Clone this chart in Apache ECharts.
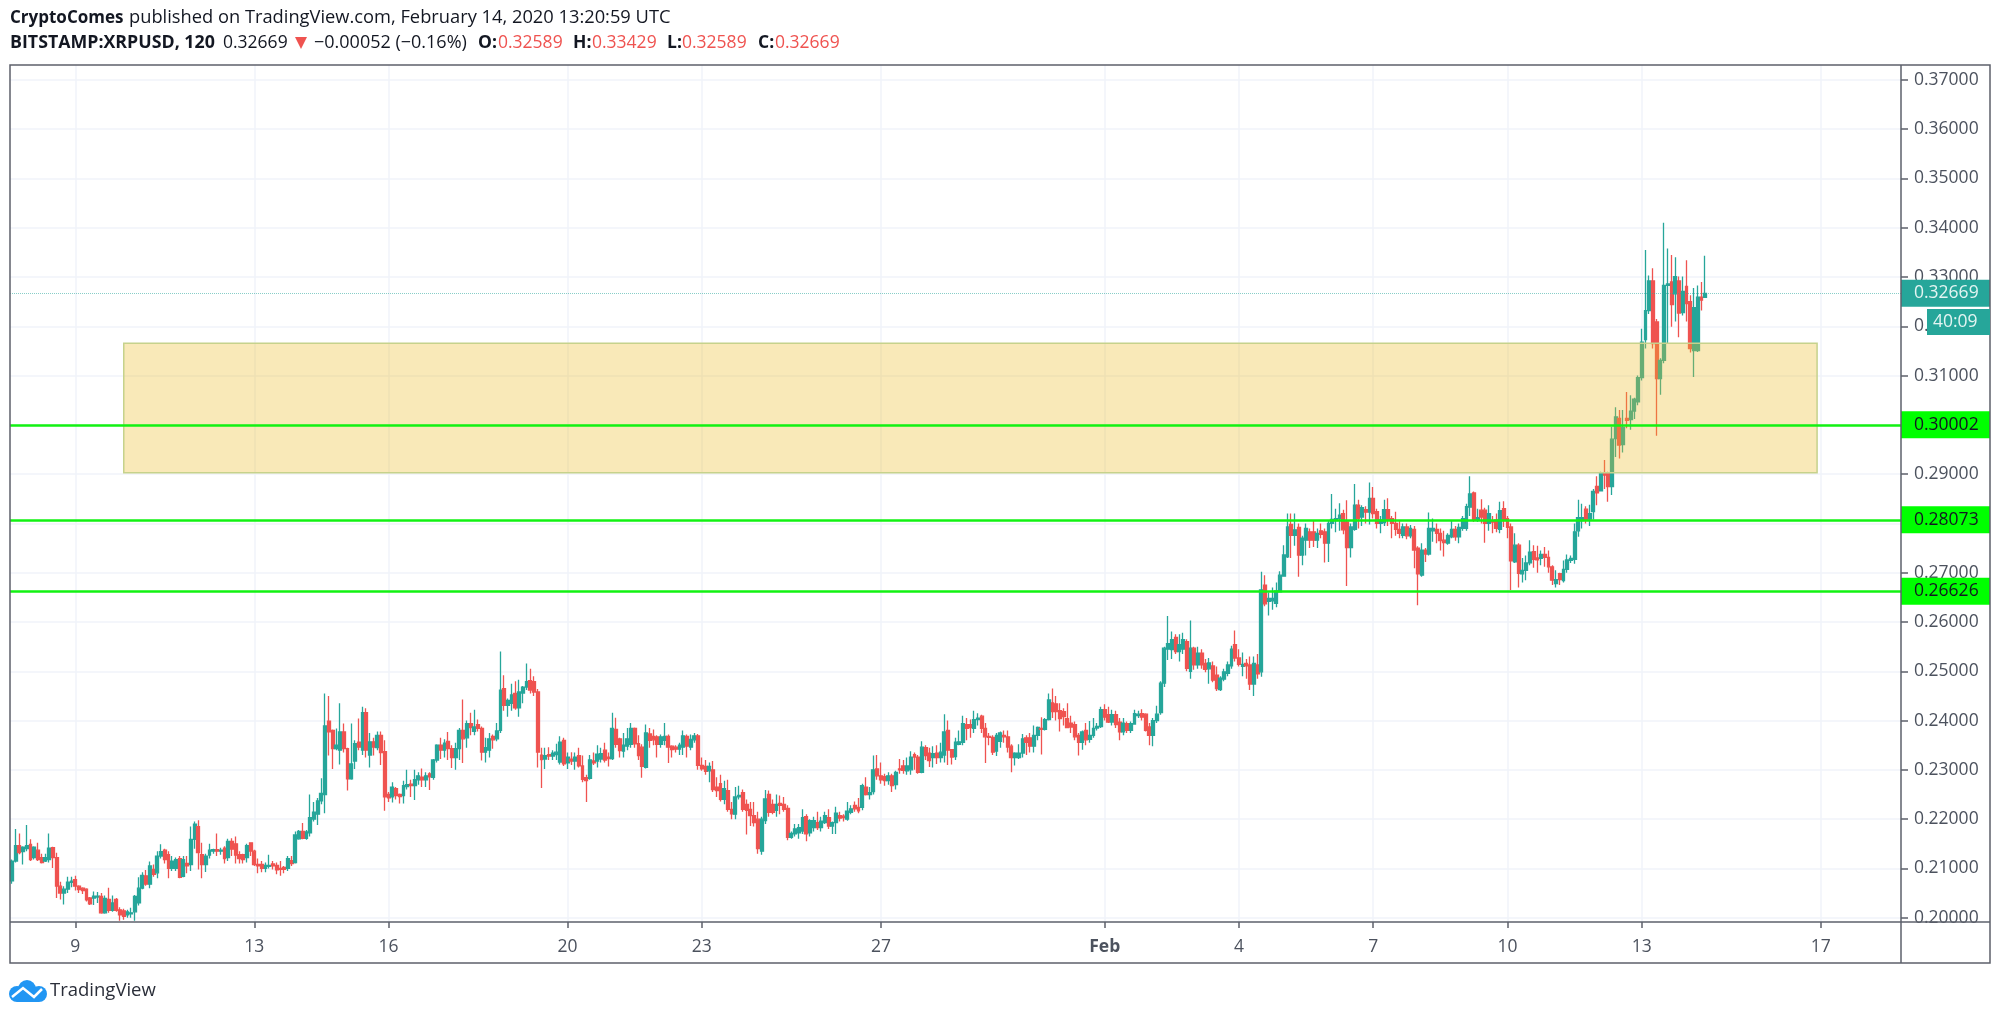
<!DOCTYPE html>
<html>
<head>
<meta charset="utf-8">
<title>XRPUSD</title>
<script src="https://cdn.jsdelivr.net/npm/echarts@6/dist/echarts.min.js"></script>
<style>
    html, body { margin: 0; padding: 0; background: #fff; }
    #chart { width: 2000px; height: 1018px; }
</style>
</head>
<body>
<div id="chart"></div>
<script>
// prices x 10000, one 2h candle per slot, 10 per line
var opens = [
    2075,2115,2146,2134,2140,2149,2122,2137,2122,2115,
    2118,2142,2122,2064,2050,2058,2072,2077,2064,2060,
    2058,2040,2040,2042,2043,2010,2037,2015,2037,2016,
    2014,2006,2008,2012,2030,2060,2085,2068,2098,2091,
    2125,2137,2128,2100,2100,2120,2084,2110,2108,2159,
    2185,2128,2108,2127,2135,2138,2135,2141,2122,2155,
    2150,2128,2128,2122,2152,2135,2108,2108,2100,2104,
    2109,2106,2100,2102,2100,2116,2112,2160,2175,2161,
    2172,2200,2210,2237,2250,2399,2380,2343,2340,2377,
    2343,2282,2318,2356,2340,2416,2330,2357,2345,2370,
    2337,2250,2245,2262,2250,2248,2266,2271,2268,2280,
    2285,2280,2292,2285,2320,2350,2340,2358,2343,2325,
    2343,2380,2365,2394,2378,2392,2384,2336,2340,2368,
    2363,2380,2465,2431,2435,2455,2426,2456,2468,2481,
    2479,2458,2330,2322,2331,2328,2331,2316,2360,2314,
    2322,2318,2329,2308,2284,2283,2318,2318,2322,2340,
    2326,2323,2382,2363,2338,2348,2352,2384,2353,2346,
    2305,2373,2368,2367,2352,2360,2368,2348,2346,2342,
    2346,2368,2346,2361,2369,2309,2307,2298,2300,2265,
    2272,2240,2258,2220,2210,2245,2254,2230,2220,2207,
    2200,2135,2197,2250,2230,2218,2232,2230,2222,2163,
    2170,2172,2176,2205,2172,2183,2193,2183,2193,2203,
    2186,2193,2207,2206,2200,2214,2228,2224,2224,2265,
    2250,2256,2302,2288,2286,2278,2288,2270,2302,2308,
    2298,2300,2331,2326,2295,2345,2334,2325,2334,2325,
    2330,2380,2341,2327,2352,2356,2392,2392,2384,2402,
    2409,2384,2368,2366,2338,2358,2370,2367,2348,2325,
    2325,2334,2365,2365,2348,2370,2384,2382,2402,2436,
    2434,2420,2418,2404,2395,2392,2370,2356,2380,2362,
    2370,2385,2388,2422,2412,2397,2412,2397,2377,2394,
    2380,2393,2410,2414,2413,2387,2370,2400,2416,2476,
    2545,2544,2569,2540,2545,2560,2500,2547,2513,2537,
    2516,2505,2511,2492,2463,2484,2496,2511,2554,2527,
    2510,2516,2513,2474,2513,2499,2675,2642,2643,2638,
    2661,2693,2732,2798,2776,2792,2736,2766,2783,2783,
    2766,2785,2783,2760,2800,2806,2810,2820,2803,2751,
    2788,2837,2813,2828,2823,2851,2824,2800,2802,2828,
    2810,2800,2788,2776,2793,2775,2788,2750,2695,2746,
    2738,2785,2788,2780,2766,2760,2773,2788,2773,2790,
    2790,2833,2862,2807,2827,2827,2800,2805,2807,2788,
    2830,2810,2793,2722,2756,2698,2705,2720,2743,2730,
    2729,2737,2731,2712,2678,2698,2684,2707,2725,2727,
    2785,2806,2829,2809,2824,2875,2866,2902,2902,2875,
    2972,3013,2960,3013,3011,3028,3047,3096,3173,3232,
    3292,3209,3094,3131,3283,3290,3266,3292,3228,3281,
    3250,3151,3151,3259,3259
];
var closes = [
    2115,2146,2132,2143,2146,2118,2143,2118,2112,2122,
    2141,2122,2064,2050,2058,2072,2074,2064,2057,2055,
    2036,2028,2044,2044,2010,2039,2015,2030,2015,2006,
    2003,2012,2010,2043,2060,2086,2068,2105,2088,2125,
    2134,2118,2100,2115,2118,2082,2118,2105,2159,2190,
    2132,2108,2125,2137,2138,2135,2137,2120,2155,2139,
    2127,2120,2118,2146,2135,2108,2105,2100,2106,2106,
    2105,2097,2098,2098,2120,2110,2168,2175,2161,2174,
    2203,2214,2237,2252,2389,2377,2343,2350,2377,2343,
    2282,2312,2353,2346,2416,2340,2357,2346,2370,2335,
    2245,2243,2265,2248,2246,2268,2270,2268,2280,2288,
    2280,2288,2286,2320,2350,2340,2354,2343,2325,2343,
    2380,2363,2394,2386,2387,2384,2336,2345,2363,2361,
    2379,2462,2431,2441,2452,2426,2458,2468,2479,2462,
    2458,2336,2321,2329,2328,2334,2336,2356,2312,2326,
    2318,2326,2308,2281,2278,2320,2314,2332,2333,2320,
    2323,2384,2352,2339,2350,2363,2384,2353,2329,2307,
    2375,2360,2361,2352,2367,2368,2346,2341,2342,2350,
    2369,2348,2362,2369,2309,2302,2297,2307,2260,2258,
    2240,2262,2220,2211,2245,2248,2220,2218,2207,2193,
    2140,2200,2241,2214,2214,2230,2228,2220,2163,2171,
    2180,2183,2203,2170,2197,2197,2183,2196,2207,2186,
    2193,2212,2202,2203,2216,2221,2221,2217,2268,2250,
    2254,2300,2288,2280,2278,2288,2268,2295,2300,2299,
    2308,2326,2326,2295,2346,2329,2319,2333,2325,2336,
    2377,2340,2326,2356,2357,2394,2384,2386,2402,2405,
    2384,2367,2366,2336,2370,2375,2367,2346,2325,2334,
    2334,2363,2356,2348,2370,2386,2382,2402,2442,2418,
    2418,2404,2408,2386,2387,2367,2356,2377,2361,2370,
    2384,2388,2422,2407,2397,2412,2392,2377,2395,2380,
    2394,2414,2413,2407,2380,2370,2400,2413,2476,2547,
    2556,2564,2540,2554,2564,2506,2547,2513,2537,2513,
    2504,2517,2482,2465,2486,2499,2513,2545,2527,2514,
    2514,2511,2474,2516,2495,2665,2637,2648,2648,2663,
    2695,2736,2793,2776,2787,2736,2770,2790,2766,2766,
    2780,2778,2760,2800,2808,2810,2817,2787,2751,2793,
    2837,2810,2832,2823,2851,2820,2800,2807,2828,2807,
    2800,2788,2780,2793,2775,2790,2746,2698,2746,2738,
    2790,2790,2780,2765,2761,2776,2788,2773,2792,2810,
    2834,2860,2807,2812,2813,2800,2820,2803,2790,2826,
    2806,2792,2724,2756,2699,2705,2720,2742,2727,2726,
    2737,2731,2712,2685,2686,2686,2707,2726,2729,2783,
    2812,2812,2808,2820,2865,2862,2903,2898,2875,2971,
    3016,2959,2995,3009,3028,3052,3096,3168,3232,3292,
    3165,3094,3131,3283,3286,3244,3301,3227,3271,3246,
    3155,3238,3259,3253,3267
];
var lows = [
    2069,2112,2129,2108,2135,2115,2118,2115,2110,2113,
    2112,2101,2040,2037,2027,2050,2062,2055,2050,2048,
    2033,2026,2026,2030,2008,2008,2010,2012,2012,1994,
    1996,2000,2000,1994,2025,2058,2065,2060,2083,2080,
    2120,2110,2080,2095,2095,2080,2082,2090,2095,2140,
    2098,2080,2093,2120,2130,2125,2128,2110,2115,2125,
    2110,2110,2110,2112,2125,2105,2090,2092,2092,2100,
    2098,2088,2085,2090,2095,2105,2110,2158,2159,2158,
    2165,2195,2188,2230,2212,2329,2302,2340,2311,2335,
    2258,2280,2302,2340,2330,2325,2305,2329,2340,2310,
    2217,2235,2234,2240,2232,2232,2260,2245,2239,2270,
    2265,2265,2259,2280,2315,2322,2325,2320,2304,2300,
    2320,2314,2345,2370,2370,2378,2319,2315,2325,2343,
    2358,2375,2420,2408,2420,2422,2408,2435,2462,2455,
    2450,2305,2263,2302,2320,2320,2320,2311,2308,2302,
    2310,2300,2305,2275,2235,2280,2310,2305,2315,2315,
    2307,2320,2345,2325,2325,2340,2345,2345,2320,2284,
    2303,2345,2350,2325,2345,2350,2314,2325,2335,2330,
    2330,2325,2340,2355,2300,2298,2290,2275,2255,2245,
    2236,2230,2215,2200,2200,2240,2215,2169,2186,2185,
    2130,2128,2190,2205,2210,2205,2210,2215,2157,2160,
    2165,2160,2170,2155,2165,2175,2178,2175,2190,2180,
    2170,2170,2195,2195,2197,2210,2215,2212,2218,2248,
    2240,2250,2280,2272,2268,2270,2255,2260,2292,2292,
    2290,2290,2300,2292,2293,2320,2306,2305,2312,2315,
    2315,2310,2311,2320,2350,2350,2360,2365,2375,2390,
    2375,2314,2350,2330,2328,2345,2355,2335,2295,2309,
    2322,2325,2330,2335,2335,2360,2331,2380,2400,2405,
    2400,2378,2390,2385,2375,2360,2329,2341,2350,2355,
    2365,2380,2385,2400,2395,2390,2385,2360,2370,2375,
    2375,2392,2405,2400,2378,2350,2348,2395,2412,2468,
    2523,2525,2535,2520,2535,2500,2485,2503,2505,2505,
    2498,2475,2478,2460,2460,2480,2490,2505,2520,2510,
    2490,2485,2462,2450,2485,2489,2632,2613,2625,2630,
    2660,2692,2730,2730,2755,2692,2715,2735,2750,2752,
    2750,2770,2721,2722,2790,2782,2785,2778,2673,2731,
    2785,2790,2795,2800,2798,2810,2790,2780,2795,2795,
    2770,2775,2770,2770,2768,2770,2709,2634,2692,2722,
    2735,2763,2760,2745,2733,2757,2770,2765,2760,2785,
    2785,2815,2803,2803,2800,2761,2785,2780,2782,2780,
    2793,2770,2665,2720,2670,2680,2685,2715,2710,2700,
    2715,2712,2700,2675,2670,2675,2680,2700,2720,2718,
    2773,2790,2800,2795,2808,2837,2865,2870,2844,2858,
    2935,2932,2944,2993,2990,3012,3040,3090,3155,3225,
    3155,2978,3061,3125,3165,3199,3210,3178,3222,3210,
    3147,3097,3148,3232,3259
];
var highs = [
    2118,2180,2171,2145,2188,2159,2145,2152,2130,2130,
    2171,2144,2132,2073,2064,2083,2083,2085,2066,2062,
    2060,2042,2053,2052,2050,2045,2061,2045,2040,2021,
    2018,2016,2020,2046,2082,2092,2097,2114,2108,2135,
    2149,2140,2135,2125,2122,2125,2125,2125,2185,2195,
    2198,2152,2130,2150,2140,2171,2142,2145,2160,2161,
    2165,2135,2130,2150,2153,2138,2120,2115,2112,2128,
    2115,2112,2115,2105,2125,2125,2175,2178,2192,2178,
    2250,2235,2243,2283,2455,2450,2382,2384,2435,2394,
    2345,2394,2360,2404,2428,2425,2375,2365,2378,2378,
    2360,2255,2275,2265,2252,2278,2300,2280,2300,2295,
    2303,2295,2295,2322,2352,2365,2362,2377,2350,2355,
    2385,2443,2400,2416,2422,2402,2388,2365,2375,2372,
    2395,2540,2492,2445,2475,2480,2483,2470,2516,2505,
    2490,2464,2345,2345,2346,2340,2353,2368,2365,2335,
    2336,2335,2345,2329,2290,2330,2335,2350,2345,2355,
    2335,2416,2406,2365,2375,2385,2395,2386,2370,2352,
    2392,2385,2382,2370,2372,2395,2372,2350,2350,2355,
    2380,2372,2372,2375,2373,2325,2320,2315,2318,2285,
    2290,2278,2280,2235,2265,2268,2260,2240,2235,2235,
    2215,2205,2259,2258,2240,2250,2248,2245,2228,2175,
    2190,2190,2220,2210,2200,2205,2215,2205,2215,2220,
    2195,2225,2215,2210,2235,2228,2236,2243,2272,2285,
    2265,2329,2330,2315,2292,2295,2292,2298,2322,2320,
    2325,2338,2335,2330,2358,2350,2345,2348,2350,2355,
    2413,2400,2342,2365,2380,2410,2405,2402,2420,2415,
    2412,2395,2375,2370,2375,2378,2380,2380,2352,2336,
    2352,2373,2370,2375,2390,2388,2407,2405,2455,2465,
    2450,2435,2425,2435,2410,2398,2375,2380,2395,2399,
    2405,2395,2428,2433,2428,2422,2420,2405,2405,2398,
    2398,2422,2420,2423,2415,2395,2405,2430,2480,2550,
    2612,2581,2575,2575,2578,2565,2603,2550,2550,2545,
    2525,2527,2520,2510,2490,2505,2520,2552,2583,2545,
    2538,2525,2530,2530,2535,2702,2695,2660,2670,2680,
    2703,2756,2820,2820,2820,2800,2775,2800,2790,2805,
    2790,2800,2790,2805,2860,2830,2841,2828,2847,2800,
    2880,2848,2837,2835,2883,2874,2830,2815,2848,2851,
    2815,2824,2805,2800,2800,2797,2795,2754,2760,2750,
    2822,2810,2800,2790,2785,2780,2805,2795,2800,2815,
    2840,2896,2865,2830,2849,2832,2837,2815,2820,2844,
    2845,2815,2800,2780,2760,2730,2735,2766,2756,2755,
    2745,2752,2745,2715,2705,2700,2725,2737,2735,2800,
    2848,2840,2835,2838,2870,2896,2905,2929,2905,2996,
    3036,3030,3030,3067,3060,3055,3100,3195,3355,3303,
    3318,3215,3135,3410,3358,3345,3340,3301,3301,3334,
    3263,3278,3283,3290,3343
];

var priceTicks = [0.20,0.21,0.22,0.23,0.24,0.25,0.26,0.27,0.28,0.29,0.30,0.31,0.32,0.33,0.34,0.35,0.36,0.37];
var dayLabels = ['9','13','16','20','23','27','Feb','4','7','10','13','17'];
var dayOffsets = [0,4,7,11,14,18,23,26,29,32,35,39];  // days after Jan 9
var supportLevels = [0.30002,0.28073,0.26626];
var lastPrice = 0.32669;
var zoneTop = 0.31656;
var zoneBottom = 0.2903;

var SLOTS = 507;
var JAN9_SLOT = 17;
var UP = '#26a69a', DOWN = '#ef5350', TEXT = '#4c525e', FRAME = '#5d606b', GRIDLINE = '#f0f3fa';
var FONT = '"Open Sans", "Noto Sans", sans-serif';

// 2h time slots, the axis runs on past the last candle
var categories = [];
var labelBySlot = {};
for (var i = 0; i < SLOTS; i++) {
    categories.push(new Date(Date.UTC(2020, 0, 8, 22) + i * 7200000).toISOString());
}
dayOffsets.forEach(function (d, k) {
    labelBySlot[categories[JAN9_SLOT + d * 12]] = dayLabels[k];
});
function isDayTick(index, value) {
    return labelBySlot[value] !== undefined;
}

var candles = opens.map(function (o, k) {
    return [o / 10000, closes[k] / 10000, lows[k] / 10000, highs[k] / 10000];
});

function priceTag(value, background, color, line) {
    return {
        name: value.toFixed(5),
        yAxis: value,
        lineStyle: line,
        label: {
            show: true,
            position: 'end',
            distance: 0,
            formatter: '{b}',
            backgroundColor: background,
            color: color,
            fontFamily: FONT,
            fontSize: 17.5,
            lineHeight: 17,
            width: 63,
            padding: [5, 13, 5, 13]
        }
    };
}

var tagData = supportLevels.map(function (v) {
    return priceTag(v, '#00ff00', '#131722', { color: '#12f212', width: 2.5, type: 'solid' });
});
tagData.push(priceTag(lastPrice, UP, '#e3f4f2', { color: 'rgba(38,166,154,0.55)', width: 1, type: 'dotted' }));

function headerText(text, x, y, fill, bold, size) {
    return {
        type: 'text', x: x, y: y, z: 30,
        style: { text: text, fill: fill, font: (bold ? 'bold ' : '') + (size || 17.5) + 'px ' + FONT, textVerticalAlign: 'middle' }
    };
}

var chart = echarts.init(document.getElementById('chart'));
chart.setOption({
    animation: false,
    backgroundColor: '#fff',
    grid: { left: 10, right: 99, top: 65, bottom: 96 },
    xAxis: {
        type: 'category',
        data: categories,
        boundaryGap: true,
        axisLine: { show: false },
        axisTick: {
            show: true, interval: isDayTick, alignWithLabel: true, length: 6,
            lineStyle: { color: FRAME, width: 1.5 }
        },
        axisLabel: {
            interval: isDayTick,
            hideOverlap: false,
            margin: 16,
            fontSize: 17.5,
            fontFamily: FONT,
            color: TEXT,
            formatter: function (v) {
                var s = labelBySlot[v];
                return s === 'Feb' ? '{b|Feb}' : s;
            },
            rich: { b: { fontWeight: 'bold', fontSize: 17.5, fontFamily: FONT, color: TEXT } }
        },
        splitLine: {
            show: true, interval: isDayTick, alignWithLabel: true,
            lineStyle: { color: GRIDLINE, width: 1.5 }
        }
    },
    yAxis: {
        type: 'value',
        position: 'right',
        min: 0.19913,
        max: 0.37303,
        axisLine: { show: false },
        axisTick: { show: true, length: 7, customValues: priceTicks, lineStyle: { color: FRAME, width: 1.5 } },
        axisLabel: {
            customValues: priceTicks,
            showMinLabel: true,
            showMaxLabel: true,
            margin: 13,
            fontSize: 17.5,
            fontFamily: FONT,
            color: TEXT,
            padding: [3, 0, 0, 0],
            formatter: function (v) { return v.toFixed(5); }
        },
        splitLine: { show: true, customValues: priceTicks, lineStyle: { color: GRIDLINE, width: 1.5 } }
    },
    series: [{
        type: 'candlestick',
        data: candles,
        barWidth: 3.4,
        clip: false,
        itemStyle: { color: UP, color0: DOWN, borderColor: UP, borderColor0: DOWN, borderWidth: 1.3 },
        markArea: {
            silent: true,
            z: 4,
            itemStyle: { color: 'rgba(236,187,38,0.33)', borderColor: '#c6d28c', borderWidth: 1.5 },
            data: [[
                { xAxis: categories[30], yAxis: zoneTop },
                { xAxis: categories[484], yAxis: zoneBottom }
            ]]
        },
        markLine: {
            silent: true,
            z: 10,
            symbol: 'none',
            precision: 5,
            data: tagData
        }
    }],
    graphic: [
        headerText('CryptoComes', 10, 18, '#131722', true, 17),
        headerText('published on TradingView.com, February 14, 2020 13:20:59 UTC', 129, 18, '#131722', false, 18.3),
        headerText('BITSTAMP:XRPUSD, 120', 10, 43, '#131722', true, 17.8),
        headerText('0.32669', 223, 43, '#131722', false),
        { type: 'polygon', z: 30, shape: { points: [[295, 37], [307, 37], [301, 49]] }, style: { fill: DOWN } },
        headerText('\u22120.00052 (\u22120.16%)', 314, 43, '#131722', false, 18),
        headerText('O:', 478, 43, '#131722', true),
        headerText('0.32589', 498, 43, DOWN, false),
        headerText('H:', 573, 43, '#131722', true),
        headerText('0.33429', 592, 43, DOWN, false),
        headerText('L:', 667, 43, '#131722', true),
        headerText('0.32589', 682, 43, DOWN, false),
        headerText('C:', 758, 43, '#131722', true),
        headerText('0.32669', 775, 43, DOWN, false),

        // covers the bottom of the clipped 0.20000 label
        { type: 'rect', z: 40, shape: { x: 1902, y: 923, width: 87, height: 39 }, style: { fill: '#fff' } },
        // frame
        { type: 'rect', z: 60, shape: { x: 10, y: 65, width: 1980, height: 898 }, style: { fill: 'none', stroke: FRAME, lineWidth: 1.5 } },
        { type: 'line', z: 60, shape: { x1: 10, y1: 922, x2: 1990, y2: 922 }, style: { stroke: FRAME, lineWidth: 1.5 } },
        { type: 'line', z: 60, shape: { x1: 1901, y1: 65, x2: 1901, y2: 963 }, style: { stroke: FRAME, lineWidth: 1.5 } },
        // countdown
        { type: 'rect', z: 70, shape: { x: 1927, y: 309, width: 63, height: 26 }, style: { fill: UP } },
        { type: 'text', z: 71, x: 1933, y: 322, style: { text: '40:09', fill: '#e3f4f2', font: '17.5px ' + FONT, textVerticalAlign: 'middle' } },

        // logo
        { type: 'circle', z: 30, shape: { cx: 17, cy: 994, r: 8 }, style: { fill: '#2196f3' } },
        { type: 'circle', z: 30, shape: { cx: 27, cy: 989, r: 9 }, style: { fill: '#2196f3' } },
        { type: 'circle', z: 30, shape: { cx: 39, cy: 994, r: 8 }, style: { fill: '#2196f3' } },
        { type: 'rect', z: 30, shape: { x: 17, y: 992, width: 22, height: 10 }, style: { fill: '#2196f3' } },
        { type: 'polyline', z: 31, x: 9, y: 980, shape: { points: [[3, 17], [14, 8], [25, 17], [33, 9]] }, style: { fill: 'none', stroke: '#fff', lineWidth: 2.5 } },
        { type: 'text', z: 30, x: 50, y: 991, style: { text: 'TradingView', fill: '#2a2e39', font: '18.5px ' + FONT, textVerticalAlign: 'middle' } }
    ]
});
</script>
</body>
</html>
